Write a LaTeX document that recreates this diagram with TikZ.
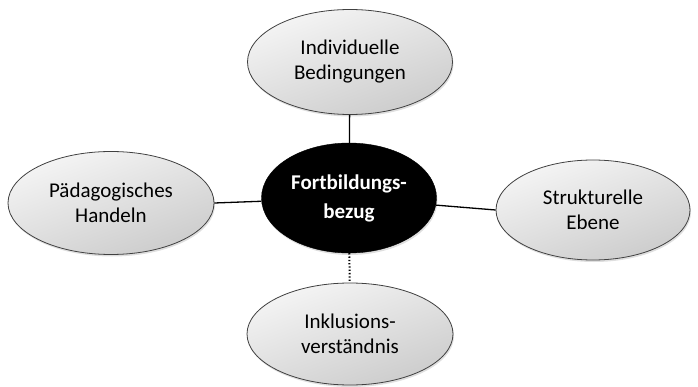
\documentclass[tikz,border=0pt]{standalone}
\usepackage{fontspec}
\setmainfont{Carlito}
\usetikzlibrary{shapes.geometric,shadows}
\begin{document}
\begin{tikzpicture}[x=1pt,y=-1pt,
  bubble/.style={ellipse, draw=black!75, line width=0.8pt, inner sep=0pt,
    top color=gray!8, bottom color=gray!40, shading angle=20,
    drop shadow={shadow xshift=1pt, shadow yshift=-2pt, opacity=0.25},
    align=center, font=\fontsize{21}{25}\selectfont},
  hub/.style={ellipse, draw=black, fill=black, inner sep=0pt,
    drop shadow={shadow xshift=1pt, shadow yshift=-2pt, opacity=0.25},
    align=center, text=white, font=\bfseries\fontsize{21}{29}\selectfont},
  link/.style={draw=black, line width=1.3pt}]
\useasboundingbox (0,0) rectangle (698,387);
\node[hub, minimum width=175pt, minimum height=110pt] (c) at (349,198) {Fortbildungs-\\bezug};
\node[bubble, minimum width=205pt, minimum height=105pt] (t) at (350,62) {Individuelle\\Bedingungen};
\node[bubble, minimum width=206pt, minimum height=103pt] (l) at (111,203) {Pädagogisches\\Handeln};
\node[bubble, minimum width=194pt, minimum height=100pt] (r) at (593,210) {Strukturelle\\Ebene};
\node[bubble, minimum width=206pt, minimum height=102pt] (b) at (350,334) {Inklusions-\\verständnis};
\draw[link] (t) -- (c);
\draw[link] (l.east) -- (c);
\draw[link] (c) -- (r.west);
\draw[link, dotted, line width=2pt] (c) -- (b);
\end{tikzpicture}
\end{document}
